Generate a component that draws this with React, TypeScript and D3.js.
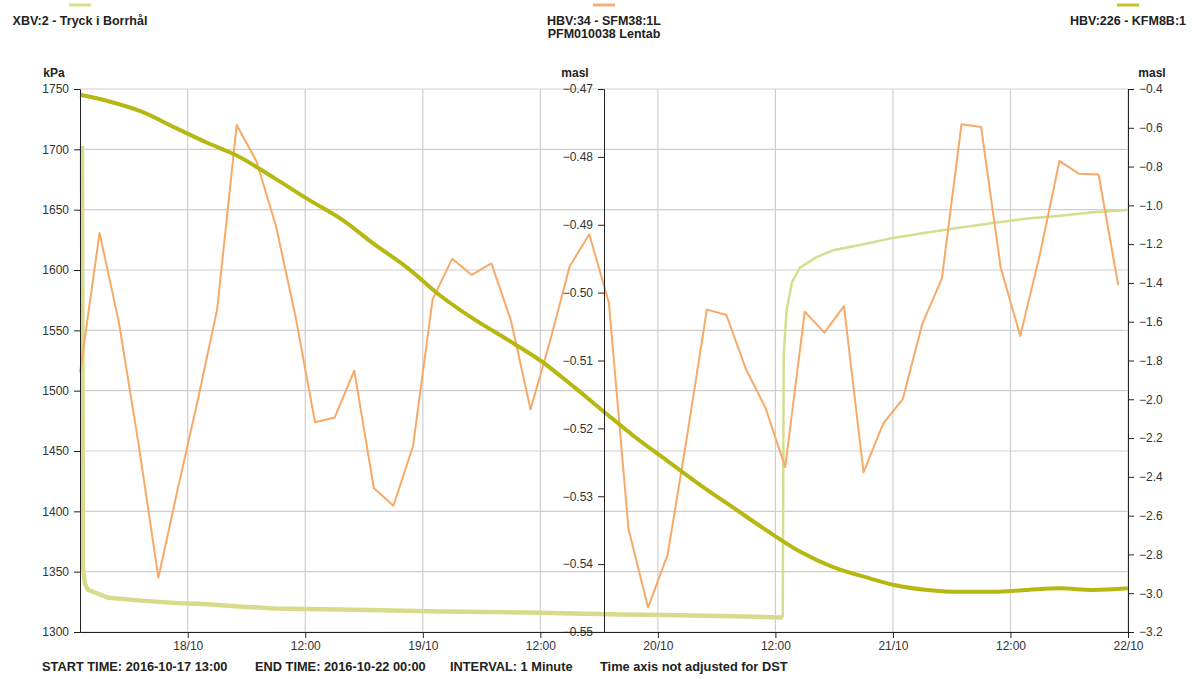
import React, { useEffect, useRef } from 'react';
import * as d3 from 'd3';

const width = 1195;
const height = 679;
const margin = { top: 89, right: 67, bottom: 47, left: 80 };

const startTime = Date.UTC(2016, 9, 17, 13, 0);
const endTime = Date.UTC(2016, 9, 22, 0, 0);

// XBV:2 - Tryck i Borrhål (kPa, left axis) : hours after start, value
const tryckHours = [0.2, 0.3, 0.5, 0.8, 2.9, 6.3, 9.7, 13.1, 16.5, 19.9, 23.3, 28.1, 36.8, 47.0, 55.1, 59.9, 66.7, 71.75,
  71.85, 72.15, 72.7, 73.5, 75.2, 76.9, 80.4, 83.0, 86.5, 89.9, 93.2, 96.7, 100.1, 103.4, 106.9];
const tryckValues = [1703, 1355, 1340, 1335, 1328.4, 1326, 1324, 1323, 1321, 1319.5, 1319, 1318.5, 1317, 1316, 1314.5, 1314, 1313, 1312,
  1530, 1567, 1590, 1602, 1610.6, 1616.4, 1622, 1626.6, 1631, 1635.3, 1639, 1642.6, 1645, 1647.8, 1649.8];

// HBV:34 - SFM38:1L (masl, middle axis), one reading every 2 hours from start
const sfmValues = [-0.5118, -0.4912, -0.5046, -0.5225, -0.542, -0.5288, -0.516, -0.5025, -0.4753, -0.4806,
  -0.4901, -0.5035, -0.5191, -0.5184, -0.5115, -0.5288, -0.5314, -0.5226, -0.501, -0.495,
  -0.4974, -0.4957, -0.5041, -0.5172, -0.5071, -0.4961, -0.4914, -0.5015, -0.5348, -0.5464,
  -0.5386, -0.521, -0.5025, -0.5033, -0.5113, -0.517, -0.5257, -0.5028, -0.5059, -0.502,
  -0.5265, -0.5193, -0.5157, -0.5046, -0.4979, -0.4752, -0.4756, -0.4963, -0.5064, -0.4944,
  -0.4806, -0.4825, -0.4826, -0.4989];
const sfmStepHours = 2;

// HBV:226 - KFM8B:1 (masl, right axis)
const kfmHours = [0, 2.9, 6.3, 9.7, 13.1, 16.0, 19.9, 23.3, 26.8, 29.9, 33.4, 36.8, 40.1, 43.6, 47.0, 50.4, 53.4, 56.5,
  59.9, 63.3, 66.7, 70.1, 73.5, 76.9, 80.4, 83.0, 86.5, 89.9, 93.2, 96.7, 100.1, 103.4, 107];
const kfmValues = [-0.43, -0.463, -0.517, -0.599, -0.68, -0.743, -0.861, -0.969, -1.075, -1.195, -1.321, -1.466, -1.583,
  -1.691, -1.8, -1.935, -2.06, -2.188, -2.315, -2.441, -2.559, -2.676, -2.785, -2.866, -2.92, -2.956, -2.983, -2.993,
  -2.993, -2.983, -2.975, -2.983, -2.975];

const leftTicks = [1300, 1350, 1400, 1450, 1500, 1550, 1600, 1650, 1700, 1750];
const midTicks = [-0.55, -0.54, -0.53, -0.52, -0.51, -0.5, -0.49, -0.48, -0.47];
const rightTicks = [-3.2, -3.0, -2.8, -2.6, -2.4, -2.2, -2.0, -1.8, -1.6, -1.4, -1.2, -1.0, -0.8, -0.6, -0.4];

const legendItems = [
  { lines: ['XBV:2 - Tryck i Borrhål'], color: '#dcdc8e' },
  { lines: ['HBV:34 - SFM38:1L', 'PFM010038 Lentab'], color: '#f6b078' },
  { lines: ['HBV:226 - KFM8B:1'], color: '#c4c42a' },
];
const footerTexts = ['START TIME: 2016-10-17 13:00', 'END TIME: 2016-10-22 00:00', 'INTERVAL: 1 Minute', 'Time axis not adjusted for DST'];
const footerX = [42, 255, 450, 600];

const HOUR = 3600 * 1000;
const font = '"Liberation Sans", Arial, sans-serif';

export default function App() {
  const ref = useRef<SVGSVGElement | null>(null);

  useEffect(() => {
    const svg = d3.select(ref.current);
    svg.selectAll('*').remove();

    const x0 = margin.left;
    const x1 = width - margin.right;
    const y0 = margin.top;
    const y1 = height - margin.bottom;
    const xMid = (x0 + x1) / 2;

    const x = d3.scaleUtc().domain([new Date(startTime), new Date(endTime)]).range([x0, x1]);
    const yLeft = d3.scaleLinear().domain([1300, 1750]).range([y1, y0]);
    const yMid = d3.scaleLinear().domain([-0.55, -0.47]).range([y1, y0]);
    const yRight = d3.scaleLinear().domain([-3.2, -0.4]).range([y1, y0]);
    const t = (h: number) => new Date(startTime + h * HOUR);

    const timeTicks = d3.utcHour.every(12)!.range(new Date(startTime), new Date(endTime + 1));

    // grid
    const grid = svg.append('g');
    grid.selectAll('.h').data(leftTicks).enter().append('line')
      .attr('x1', x0).attr('x2', x1)
      .attr('y1', (d) => yLeft(d)).attr('y2', (d) => yLeft(d))
      .attr('stroke', '#cfcfcf').attr('stroke-width', 1.2);
    grid.selectAll('.v').data(timeTicks).enter().append('line')
      .attr('x1', (d) => x(d)).attr('x2', (d) => x(d))
      .attr('y1', y0).attr('y2', y1)
      .attr('stroke', '#cfcfcf').attr('stroke-width', 1.2);

    // series
    const tryckData = tryckHours.map((h, i) => ({ t: t(h), v: tryckValues[i], h }));
    const lineLeft = d3.line<any>().x((d) => x(d.t)).y((d) => yLeft(d.v));
    svg.append('path')
      .datum(tryckData.filter((d) => d.h <= 71.75))
      .attr('d', lineLeft)
      .attr('fill', 'none').attr('stroke', '#d9db8c').attr('stroke-width', 4.5);
    svg.append('path')
      .datum(tryckData.filter((d) => d.h >= 71.75))
      .attr('d', lineLeft)
      .attr('fill', 'none').attr('stroke', '#d2df8e').attr('stroke-width', 2.5);

    const sfmData = sfmValues.map((v, i) => ({ t: t(i * sfmStepHours), v }));
    svg.append('path')
      .datum(sfmData)
      .attr('d', d3.line<any>().x((d) => x(d.t)).y((d) => yMid(d.v)))
      .attr('fill', 'none').attr('stroke', '#f7aa68').attr('stroke-width', 2)
      .attr('stroke-linejoin', 'round');

    const kfmData = kfmHours.map((h, i) => ({ t: t(h), v: kfmValues[i] }));
    svg.append('path')
      .datum(kfmData)
      .attr('d', d3.line<any>().curve(d3.curveMonotoneX).x((d) => x(d.t)).y((d) => yRight(d.v)))
      .attr('fill', 'none').attr('stroke', '#b7b712').attr('stroke-width', 4);

    // axes
    const styleAxis = (g: any) => {
      g.selectAll('path').attr('stroke', '#222');
      g.selectAll('line').attr('stroke', '#222');
      g.selectAll('text').attr('fill', '#333').style('font-family', font).style('font-size', '12px');
    };

    svg.append('g').attr('transform', `translate(${x0},0)`)
      .call(d3.axisLeft(yLeft).tickValues(leftTicks).tickFormat(d3.format('d')).tickPadding(5))
      .call(styleAxis);
    svg.append('g').attr('transform', `translate(${xMid},0)`)
      .call(d3.axisLeft(yMid).tickValues(midTicks).tickFormat(d3.format('.2f')).tickPadding(5))
      .call(styleAxis);
    svg.append('g').attr('transform', `translate(${x1},0)`)
      .call(d3.axisRight(yRight).tickValues(rightTicks).tickFormat(d3.format('.1f')).tickPadding(5))
      .call(styleAxis);
    const fmtDay = d3.utcFormat('%d/%m');
    const fmtHour = d3.utcFormat('%H:%M');
    svg.append('g').attr('transform', `translate(0,${y1})`)
      .call(d3.axisBottom(x).tickValues(timeTicks)
        .tickFormat((d: any) => (d.getUTCHours() === 0 ? fmtDay(d) : fmtHour(d))).tickSizeOuter(0))
      .call(styleAxis);

    // unit labels
    const units = [{ x: 54, s: 'kPa' }, { x: 575, s: 'masl' }, { x: 1152, s: 'masl' }];
    svg.selectAll('.unit').data(units).enter().append('text')
      .attr('x', (d) => d.x).attr('y', 77)
      .attr('text-anchor', 'middle')
      .style('font-family', font).style('font-size', '12px').style('font-weight', 'bold')
      .attr('fill', '#222')
      .text((d) => d.s);

    // legend
    const legendX = [x0, xMid, x1];
    legendItems.forEach((item, i) => {
      const cx = legendX[i];
      svg.append('line')
        .attr('x1', cx - 11).attr('x2', cx + 11).attr('y1', 5).attr('y2', 5)
        .attr('stroke', item.color).attr('stroke-width', 3);
      item.lines.forEach((s, j) => {
        svg.append('text')
          .attr('x', cx).attr('y', 25 + j * 13)
          .attr('text-anchor', 'middle')
          .style('font-family', font).style('font-size', '12.5px').style('font-weight', 'bold')
          .attr('fill', '#222')
          .text(s);
      });
    });

    // footer
    svg.selectAll('.foot').data(footerTexts).enter().append('text')
      .attr('x', (d, i) => footerX[i]).attr('y', 671)
      .style('font-family', font).style('font-size', '12.8px').style('font-weight', 'bold')
      .attr('fill', '#222')
      .text((d) => d);
  }, []);

  return (
    <svg ref={ref} width={width} height={height}
      style={{ position: 'absolute', left: 0, top: 0, background: '#fff' }} />
  );
}
